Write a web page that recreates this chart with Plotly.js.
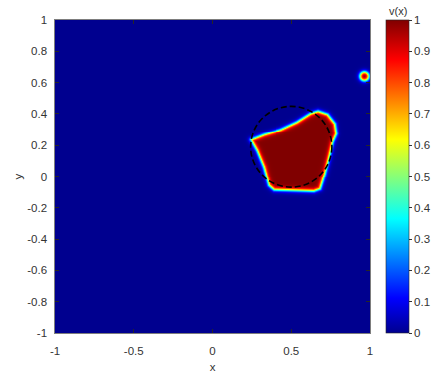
<!DOCTYPE html>
<html>
<head>
<meta charset="utf-8">
<script src="https://cdn.plot.ly/plotly-3.0.1.min.js"></script>
<style>html,body{margin:0;padding:0;background:#fff;}#chart{width:433px;height:376px;}</style>
</head>
<body>
<div id="chart"></div>
<script>
// Outline of the v(x)=1 region (0.5 level contour)
const shapeX = [0.242,0.323,0.429,0.534,0.619,0.666,0.725,0.771,0.780,0.757,0.735,0.708,0.678,0.640,0.386,0.354,0.323,0.280];
const shapeY = [0.237,0.269,0.301,0.350,0.404,0.419,0.399,0.340,0.276,0.223,0.127,0.020,-0.076,-0.090,-0.082,-0.054,0.063,0.169];
// small blob near right edge
const blobCenter = [0.962, 0.645];
const blobRadius = 0.026;
// dashed reference circle
const circleCenter = [0.5, 0.19];
const circleRadius = 0.258;
// axis ticks
const xTicks = [-1,-0.5,0,0.5,1];
const yTicks = [-1,-0.8,-0.6,-0.4,-0.2,0,0.2,0.4,0.6,0.8,1];
const cbTicks = [0,0.1,0.2,0.3,0.4,0.5,0.6,0.7,0.8,0.9,1];
const edgeWidth = 0.015;

const N = 321;
const gx = [], gy = [];
for (let i = 0; i < N; i++) { gx.push(-1 + 2*i/(N-1)); gy.push(-1 + 2*i/(N-1)); }

function segDist(px,py,ax,ay,bx,by){
  const dx=bx-ax, dy=by-ay;
  let t=((px-ax)*dx+(py-ay)*dy)/(dx*dx+dy*dy);
  t=Math.max(0,Math.min(1,t));
  const qx=ax+t*dx-px, qy=ay+t*dy-py;
  return Math.sqrt(qx*qx+qy*qy);
}
function polySigned(px,py){
  let dmin=1e9, inside=false;
  const n=shapeX.length;
  for(let i=0,j=n-1;i<n;j=i++){
    const xi=shapeX[i], yi=shapeY[i], xj=shapeX[j], yj=shapeY[j];
    if(((yi>py)!==(yj>py)) && (px < (xj-xi)*(py-yi)/(yj-yi)+xi)) inside=!inside;
    dmin=Math.min(dmin, segDist(px,py,xj,yj,xi,yi));
  }
  return inside?dmin:-dmin;
}
const z = [];
for (let r = 0; r < N; r++) {
  const row = [];
  for (let c = 0; c < N; c++) {
    const px = gx[c], py = gy[r];
    const d1 = polySigned(px,py);
    const d2 = blobRadius - Math.hypot(px-blobCenter[0], py-blobCenter[1]);
    const d = Math.max(d1,d2);
    row.push(0.5*(1+Math.tanh(d/edgeWidth)));
  }
  z.push(row);
}

const jet = [
  [0,'rgb(0,0,143)'],[0.111,'rgb(0,0,255)'],[0.365,'rgb(0,255,255)'],
  [0.619,'rgb(255,255,0)'],[0.873,'rgb(255,0,0)'],[1,'rgb(128,0,0)']
];

const font = {family:'"Liberation Sans", Arial, sans-serif', size:11.5, color:'#333333'};

const data = [{
  type:'heatmap', x:gx, y:gy, z:z, zmin:0, zmax:1, zsmooth:'best',
  colorscale:jet, hoverinfo:'skip',
  colorbar:{
    x:1.051, xanchor:'left', xref:'paper', y:0.5, yanchor:'middle', yref:'paper',
    len:1, lenmode:'fraction', thickness:23, thicknessmode:'pixels',
    xpad:0, ypad:0, outlinewidth:0.6, outlinecolor:'#262626',
    tickvals:cbTicks, ticktext:cbTicks.map(String),
    ticks:'outside', ticklen:3, tickcolor:'#333', tickfont:font
  }
}];

const layout = {
  width:433, height:376,
  margin:{l:55, r:63, t:20, b:43, pad:0, autoexpand:false},
  paper_bgcolor:'#ffffff', plot_bgcolor:'#ffffff',
  font:font,
  xaxis:{range:[-1,1], tickvals:xTicks, ticktext:xTicks.map(String), ticks:'inside', ticklen:4,
    tickcolor:'#262626', showline:true, mirror:'ticks', linecolor:'#262626', linewidth:0.6,
    ticklabelstandoff:8,
    showgrid:false, zeroline:false, automargin:false, title:{text:'x', font:font, standoff:6}},
  yaxis:{range:[-1,1], tickvals:yTicks, ticktext:yTicks.map(String), ticks:'inside', ticklen:4,
    tickcolor:'#262626', showline:true, mirror:'ticks', linecolor:'#262626', linewidth:0.6,
    ticklabelstandoff:5,
    showgrid:false, zeroline:false, automargin:false, title:{text:'y', font:font, standoff:2}},
  shapes:[{
    type:'circle', xref:'x', yref:'y', layer:'above',
    x0:circleCenter[0]-circleRadius, x1:circleCenter[0]+circleRadius,
    y0:circleCenter[1]-circleRadius, y1:circleCenter[1]+circleRadius,
    line:{color:'#000000', width:1.6, dash:'6px,3px'}
  }],
  annotations:[{
    text:'v(x)', xref:'paper', yref:'paper', x:1.089, y:1.0, xanchor:'center', yanchor:'bottom',
    showarrow:false, font:{family:font.family, size:11, color:'#333333'}, yshift:1
  }]
};

Plotly.newPlot('chart', data, layout, {displayModeBar:false, staticPlot:true});
</script>
</body>
</html>
